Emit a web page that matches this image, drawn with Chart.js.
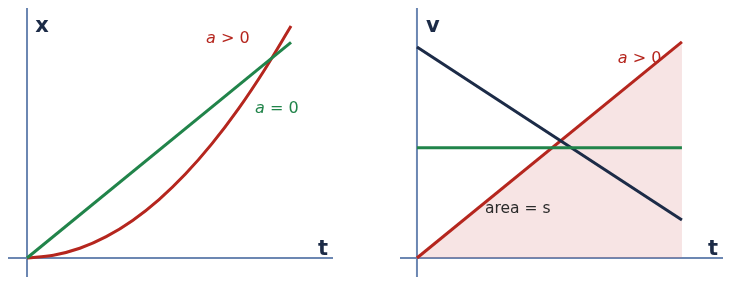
<!DOCTYPE html>
<html>
<head>
<meta charset="utf-8">
<script src="https://cdn.jsdelivr.net/npm/chart.js@4"></script>
<style>
  html, body { margin: 0; padding: 0; background: #fff; }
  body { width: 732px; height: 286px; position: relative; overflow: hidden; }
  .panel { position: absolute; top: 8px; height: 269px; }
  #left { left: 8px; width: 325px; }
  #right { left: 400px; width: 323px; }
</style>
</head>
<body>
<div class="panel" id="left"><canvas id="chart-x"></canvas></div>
<div class="panel" id="right"><canvas id="chart-v"></canvas></div>
<script>
// position-time panel
var xTimes = [0, 0.1, 0.2, 0.3, 0.4, 0.5, 0.6, 0.7, 0.8, 0.9, 1.0]
var xAccel = [0, 0.012, 0.042, 0.092, 0.162, 0.252, 0.362, 0.492, 0.642, 0.812, 1.0]
var xLineTimes = [0, 1]
var xConst = [0, 0.93]

// velocity-time panel
var vTimes = [0, 1]
var vAccel = [0, 1.0]
var vConst = [0.51, 0.51]
var vDecel = [0.977, 0.176]

var RED = '#b5261e'
var GREEN = '#21844a'
var NAVY = '#1c2b47'
var AXIS = '#6c87b2'

function pts(ts, ys) {
	return ts.map(function (t, i) { return { x: t, y: ys[i] } })
}

// draws the two axis lines through zero and the text labels
var axesPlugin = {
	id: 'axesLabels',
	beforeDatasetsDraw: function (chart) {
		var ctx = chart.ctx, a = chart.chartArea
		var x0 = chart.scales.x.getPixelForValue(0)
		var y0 = chart.scales.y.getPixelForValue(0)
		ctx.save()
		ctx.strokeStyle = AXIS
		ctx.lineWidth = 2
		ctx.beginPath()
		ctx.moveTo(a.left, y0); ctx.lineTo(a.right, y0)
		ctx.moveTo(x0, a.top); ctx.lineTo(x0, a.bottom)
		ctx.stroke()
		ctx.restore()
	},
	afterDatasetsDraw: function (chart, args, opts) {
		var ctx = chart.ctx
		ctx.save()
		ctx.textBaseline = 'middle'
		;(opts.labels || []).forEach(function (l) {
			var px = chart.scales.x.getPixelForValue(l.x)
			var py = chart.scales.y.getPixelForValue(l.y)
			ctx.fillStyle = l.color
			if (l.math) {
				// italic variable then upright rest
				ctx.textAlign = 'left'
				ctx.font = 'italic 16px "DejaVu Sans"'
				ctx.fillText(l.math, px, py)
				var w = ctx.measureText(l.math).width
				ctx.font = '16px "DejaVu Sans"'
				ctx.fillText(l.text, px + w, py)
			} else {
				ctx.textAlign = l.align || 'left'
				ctx.font = l.font
				ctx.fillText(l.text, px, py)
			}
		})
		ctx.restore()
	}
}

function baseOptions(xr, yr, labels) {
	return {
		responsive: true,
		maintainAspectRatio: false,
		animation: false,
		layout: { padding: 0 },
		plugins: {
			legend: { display: false },
			tooltip: { enabled: false },
			axesLabels: { labels: labels }
		},
		elements: { point: { radius: 0 } },
		scales: {
			x: { type: 'linear', display: false, min: xr[0], max: xr[1] },
			y: { type: 'linear', display: false, min: yr[0], max: yr[1] }
		}
	}
}

new Chart(document.getElementById('chart-x').getContext('2d'), {
	type: 'line',
	data: {
		datasets: [
			{ data: pts(xLineTimes, xConst), borderColor: GREEN, borderWidth: 3, fill: false },
			{ data: pts(xTimes, xAccel), borderColor: RED, borderWidth: 3, fill: false, cubicInterpolationMode: 'monotone' }
		]
	},
	options: baseOptions([-0.072, 1.159], [-0.082, 1.078], [
		{ text: 'x', x: 0.057, y: 0.998, font: 'bold 21px "DejaVu Sans"', color: NAVY, align: 'center' },
		{ text: 't', x: 1.121, y: 0.036, font: 'bold 21px "DejaVu Sans"', color: NAVY, align: 'center' },
		{ math: 'a', text: ' > 0', x: 0.678, y: 0.944, color: RED },
		{ math: 'a', text: ' = 0', x: 0.864, y: 0.643, color: GREEN }
	]),
	plugins: [axesPlugin]
})

new Chart(document.getElementById('chart-v').getContext('2d'), {
	type: 'line',
	data: {
		datasets: [
			{ data: pts(vTimes, vConst), borderColor: GREEN, borderWidth: 3, fill: false },
			{ data: pts(vTimes, vDecel), borderColor: NAVY, borderWidth: 3, fill: false },
			{ data: pts(vTimes, vAccel), borderColor: RED, borderWidth: 3, fill: 'origin', backgroundColor: 'rgba(214,110,110,0.19)' }
		]
	},
	options: baseOptions([-0.064, 1.155], [-0.088, 1.157], [
		{ text: 'v', x: 0.06, y: 1.07, font: 'bold 21px "DejaVu Sans"', color: NAVY, align: 'center' },
		{ text: 't', x: 1.117, y: 0.039, font: 'bold 21px "DejaVu Sans"', color: NAVY, align: 'center' },
		{ math: 'a', text: ' > 0', x: 0.758, y: 0.922, color: RED },
		{ text: 'area = s', x: 0.257, y: 0.227, font: '15.5px "DejaVu Sans"', color: '#2b2b2b' }
	]),
	plugins: [axesPlugin]
})
</script>
</body>
</html>
